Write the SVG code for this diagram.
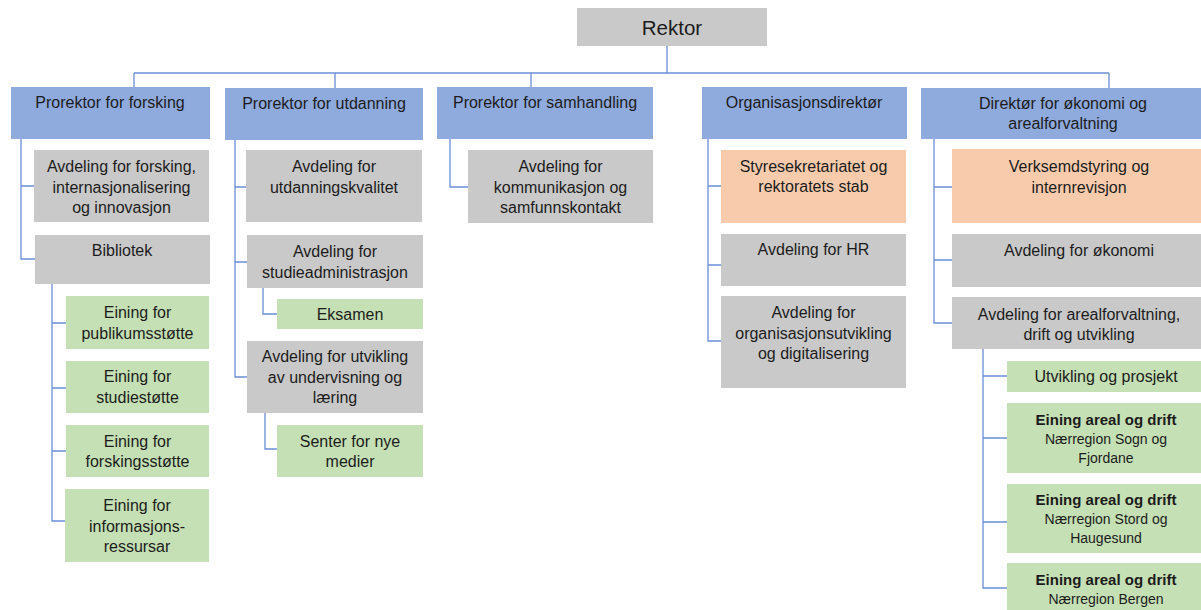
<svg xmlns="http://www.w3.org/2000/svg" width="1201" height="610" viewBox="0 0 1201 610">
<style>
.bl{fill:#8FAADC}
.gr{fill:#C9C9C9}
.gn{fill:#C5E0B4}
.or{fill:#F8CBAD}
text{font-family:"Liberation Sans",Arial,sans-serif;font-size:16px;fill:#1c1c1c;text-anchor:middle}
.s{font-size:14px}
.b{font-size:15px;font-weight:bold}
.k{font-size:20.5px}
#connectors path{fill:none;stroke:#6A8ED6;stroke-width:1.3}
</style>
<rect width="1201" height="610" fill="#fff"/>
<g id="connectors">
<path d="M667 45V73M134 73H1109M134 73V87M335 73V88M531 73V87M1109 73V88"/>
<path d="M21 139V259H35M21 186H34"/>
<path d="M52 284V521H66M52 323H66M52 388H66M52 451H66"/>
<path d="M235 140V377H247M235 187H246M235 262H247"/>
<path d="M263 288V314H277M265 413V449H277"/>
<path d="M450 139V187H468"/>
<path d="M708 139V341H721M708 186H721M708 265H721"/>
<path d="M934 139V323H952M934 187H952M934 260H952"/>
<path d="M983 349V588H1007M983 376H1007M983 438H1007M983 522H1007"/>
</g>
<g id="rektor"><rect class="gr" x="577" y="8" width="190" height="38"/><text class="k" x="672" y="35">Rektor</text></g>
<g id="prorektor-forsking"><rect class="bl" x="11" y="87" width="199" height="52"/><text x="110" y="108">Prorektor for forsking</text></g>
<g id="prorektor-utdanning"><rect class="bl" x="225" y="88" width="198" height="52"/><text x="324" y="109">Prorektor for utdanning</text></g>
<g id="prorektor-samhandling"><rect class="bl" x="437" y="87" width="216" height="52"/><text x="545" y="108">Prorektor for samhandling</text></g>
<g id="organisasjonsdirektor"><rect class="bl" x="702" y="87" width="205" height="52"/><text x="804" y="108">Organisasjonsdirektør</text></g>
<g id="direktor-okonomi"><rect class="bl" x="921" y="88" width="280" height="51"/><text x="1063" y="109">Direktør for økonomi og</text><text x="1063" y="129">arealforvaltning</text></g>

<g id="avd-forsking"><rect class="gr" x="34" y="150" width="175" height="72"/><text x="121.5" y="172">Avdeling for forsking,</text><text x="121.5" y="193">internasjonalisering</text><text x="121.5" y="213">og innovasjon</text></g>
<g id="bibliotek"><rect class="gr" x="35" y="235" width="175" height="49"/><text x="122" y="256">Bibliotek</text></g>
<g id="publikumsstotte"><rect class="gn" x="66" y="296" width="143" height="53"/><text x="137.5" y="318">Eining for</text><text x="137.5" y="339">publikumsstøtte</text></g>
<g id="studiestotte"><rect class="gn" x="66" y="361" width="143" height="52"/><text x="137.5" y="382">Eining for</text><text x="137.5" y="403">studiestøtte</text></g>
<g id="forskingsstotte"><rect class="gn" x="66" y="425" width="143" height="52"/><text x="137.5" y="447">Eining for</text><text x="137.5" y="467">forskingsstøtte</text></g>
<g id="informasjonsressursar"><rect class="gn" x="65" y="489" width="144" height="73"/><text x="137" y="511">Eining for</text><text x="137" y="532">informasjons-</text><text x="137" y="552">ressursar</text></g>

<g id="utdanningskvalitet"><rect class="gr" x="246" y="150" width="176" height="72"/><text x="334" y="172">Avdeling for</text><text x="334" y="193">utdanningskvalitet</text></g>
<g id="studieadministrasjon"><rect class="gr" x="247" y="235" width="176" height="53"/><text x="335" y="257">Avdeling for</text><text x="335" y="278">studieadministrasjon</text></g>
<g id="eksamen"><rect class="gn" x="277" y="299" width="146" height="30"/><text x="350" y="320">Eksamen</text></g>
<g id="utvikling-undervisning"><rect class="gr" x="247" y="341" width="176" height="72"/><text x="335" y="362">Avdeling for utvikling</text><text x="335" y="383">av undervisning og</text><text x="335" y="403">læring</text></g>
<g id="nye-medier"><rect class="gn" x="277" y="425" width="146" height="52"/><text x="350" y="447">Senter for nye</text><text x="350" y="467">medier</text></g>

<g id="kommunikasjon"><rect class="gr" x="468" y="150" width="185" height="73"/><text x="560.5" y="172">Avdeling for</text><text x="560.5" y="193">kommunikasjon og</text><text x="560.5" y="213">samfunnskontakt</text></g>

<g id="styresekretariatet"><rect class="or" x="721" y="150" width="185" height="73"/><text x="813.5" y="172">Styresekretariatet og</text><text x="813.5" y="192">rektoratets stab</text></g>
<g id="hr"><rect class="gr" x="721" y="234" width="185" height="52"/><text x="813.5" y="255">Avdeling for HR</text></g>
<g id="organisasjonsutvikling"><rect class="gr" x="721" y="296" width="185" height="92"/><text x="813.5" y="318">Avdeling for</text><text x="813.5" y="339">organisasjonsutvikling</text><text x="813.5" y="359">og digitalisering</text></g>

<g id="verksemdstyring"><rect class="or" x="952" y="149" width="249" height="74"/><text x="1079" y="172">Verksemdstyring og</text><text x="1079" y="193">internrevisjon</text></g>
<g id="okonomi"><rect class="gr" x="952" y="234" width="249" height="53"/><text x="1079" y="256">Avdeling for økonomi</text></g>
<g id="arealforvaltning"><rect class="gr" x="952" y="297" width="249" height="52"/><text x="1079" y="319.5">Avdeling for arealforvaltning,</text><text x="1079" y="339.5">drift og utvikling</text></g>
<g id="utvikling-prosjekt"><rect class="gn" x="1007" y="361" width="194" height="31"/><text x="1106" y="382">Utvikling og prosjekt</text></g>
<g id="sogn-fjordane"><rect class="gn" x="1007" y="403" width="194" height="70"/><text class="b" x="1106" y="425">Eining areal og drift</text><text class="s" x="1106" y="444">Nærregion Sogn og</text><text class="s" x="1106" y="463">Fjordane</text></g>
<g id="stord-haugesund"><rect class="gn" x="1007" y="484" width="194" height="69"/><text class="b" x="1106" y="504.5">Eining areal og drift</text><text class="s" x="1106" y="524">Nærregion Stord og</text><text class="s" x="1106" y="543">Haugesund</text></g>
<g id="bergen"><rect class="gn" x="1007" y="563" width="194" height="47"/><text class="b" x="1106" y="584.5">Eining areal og drift</text><text class="s" x="1106" y="604">Nærregion Bergen</text></g>
</svg>
